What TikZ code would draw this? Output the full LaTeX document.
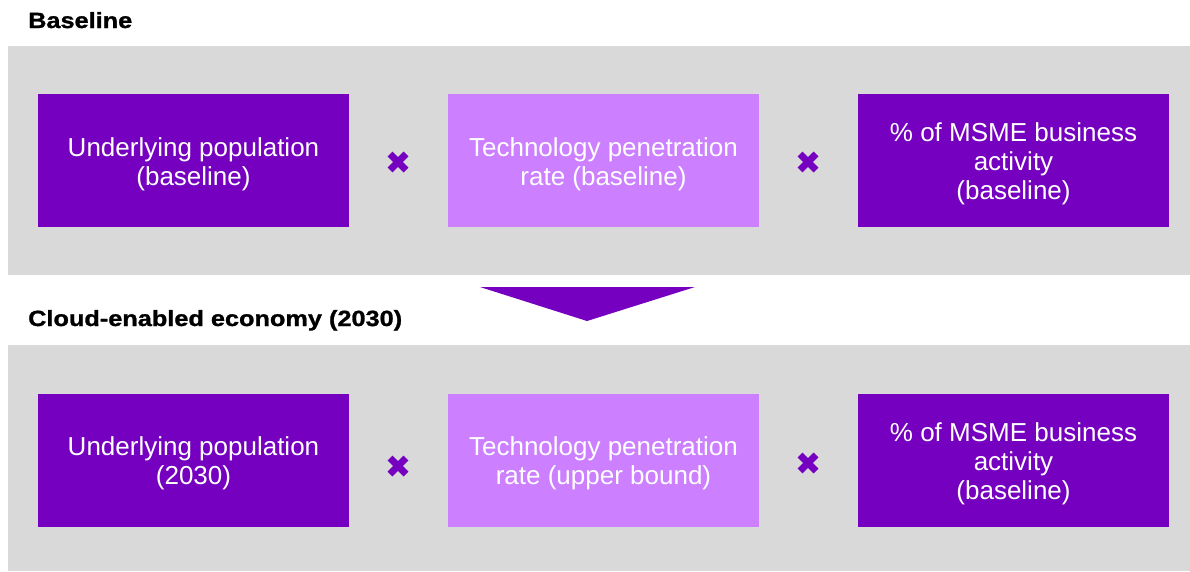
\documentclass[tikz,border=0pt]{standalone}
\usepackage{fontspec}
\setmainfont{Liberation Sans}
\newfontfamily\headfont{Liberation Sans Bold}[FakeStretch=1.15,FakeBold=1.2]
\definecolor{panelgray}{RGB}{217,217,217}
\definecolor{deeppurple}{RGB}{117,0,192}
\definecolor{lightpurple}{RGB}{204,128,255}
\begin{document}
\begin{tikzpicture}[x=1pt,y=-1pt,
  panel/.style={fill=panelgray,draw=none},
  factor/.style={draw=none,minimum width=311pt,minimum height=133pt,inner sep=0pt},
  darkfactor/.style={factor,fill=deeppurple},
  lightfactor/.style={factor,fill=lightpurple},
  label text/.style={inner sep=0pt,align=center,text=white,
    font=\fontsize{26}{29}\selectfont},
  heading/.style={anchor=base west,inner sep=0pt,font=\fontsize{22}{26}\headfont},
  times/.style={draw=deeppurple,line width=7pt}]
\useasboundingbox (0,0) rectangle (1190,571);
\fill[white] (0,0) rectangle (1190,571);

% section headings
\node[heading] (h1) at (28,28) {Baseline};
\node[heading] (h2) at (28,326) {Cloud-enabled economy (2030)};

% grey panels
\fill[panel] (8,46) rectangle (1190,275);
\fill[panel] (8,345) rectangle (1190,571);

% transition arrow
\fill[deeppurple] (480,287) -- (695,287) -- (587,321) -- cycle;

% baseline row
\node[darkfactor]  (b1) at (193.5,160.5) {};
\node[lightfactor] (b2) at (603.5,160.5) {};
\node[darkfactor]  (b3) at (1013.5,160.5) {};
\node[label text] (b1t) at ([yshift=-3.5pt]b1) {Underlying population\\(baseline)};
\node[label text] (b2t) at ([yshift=-3.5pt]b2) {Technology penetration\\rate (baseline)};
\node[label text] (b3t) at ([yshift=-3.5pt]b3) {\% of MSME business\\activity\\(baseline)};

% 2030 row
\node[darkfactor]  (c1) at (193.5,460) {};
\node[lightfactor] (c2) at (603.5,460) {};
\node[darkfactor]  (c3) at (1013.5,460) {};
\node[label text] (c1t) at ([yshift=-3.5pt]c1) {Underlying population\\(2030)};
\node[label text] (c2t) at ([yshift=-3.5pt]c2) {Technology penetration\\rate (upper bound)};
\node[label text] (c3t) at ([yshift=-3.5pt]c3) {\% of MSME business\\activity\\(baseline)};

% multiplication signs
\foreach \cx/\cy in {398/162, 808/162, 398/466, 808/463}{
  \draw[times] (\cx-8,\cy-8) -- (\cx+8,\cy+8);
  \draw[times] (\cx-8,\cy+8) -- (\cx+8,\cy-8);
}
\end{tikzpicture}
\end{document}
